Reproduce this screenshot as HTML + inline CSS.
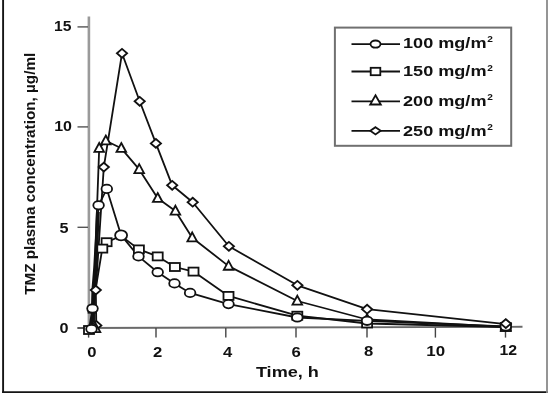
<!DOCTYPE html>
<html><head><meta charset="utf-8"><style>
html,body{margin:0;padding:0;background:#fff;width:550px;height:395px;overflow:hidden}
svg{display:block;filter:blur(0.3px)}
text{font-family:"Liberation Sans",sans-serif;font-weight:bold}
</style></head><body>
<svg width="550" height="395" viewBox="0 0 550 395" font-family="Liberation Sans, sans-serif" font-weight="bold" fill="#111"><line x1="3.1" y1="0" x2="3.1" y2="392.9" stroke="#151515" stroke-width="1.9"/>
<line x1="2.2" y1="392.1" x2="548" y2="392.1" stroke="#151515" stroke-width="1.6"/>
<line x1="547" y1="0" x2="547" y2="393" stroke="#8a8a8a" stroke-width="1.8"/>
<line x1="88.9" y1="16.5" x2="88.9" y2="328" stroke="#9a9a9a" stroke-width="2.6"/>
<line x1="77.5" y1="328" x2="522.5" y2="326.8" stroke="#6a6a6a" stroke-width="1.9"/>
<line x1="77.5" y1="26.9" x2="88" y2="26.9" stroke="#555" stroke-width="1.4"/>
<line x1="77.5" y1="126.9" x2="88" y2="126.9" stroke="#555" stroke-width="1.4"/>
<line x1="77.5" y1="227.3" x2="88" y2="227.3" stroke="#555" stroke-width="1.4"/>
<line x1="77.5" y1="328" x2="88" y2="328" stroke="#555" stroke-width="1.4"/>
<text transform="translate(62.8,31)" font-size="15" text-anchor="middle" textLength="17.4" lengthAdjust="spacingAndGlyphs">15</text>
<text transform="translate(63.1,131.3)" font-size="15" text-anchor="middle" textLength="17.8" lengthAdjust="spacingAndGlyphs">10</text>
<text transform="translate(64.1,232.8) scale(1.08,1)" font-size="15" text-anchor="middle">5</text>
<text transform="translate(64,332.6) scale(1.08,1)" font-size="15" text-anchor="middle">0</text>
<line x1="88.6" y1="328" x2="88.6" y2="337.6" stroke="#444" stroke-width="1.4"/>
<line x1="156" y1="328" x2="156" y2="337.6" stroke="#444" stroke-width="1.4"/>
<line x1="225.8" y1="328" x2="225.8" y2="337.6" stroke="#444" stroke-width="1.4"/>
<line x1="296" y1="328" x2="296" y2="337.6" stroke="#444" stroke-width="1.4"/>
<line x1="367" y1="328" x2="367" y2="337.6" stroke="#444" stroke-width="1.4"/>
<line x1="435.4" y1="328" x2="435.4" y2="337.6" stroke="#444" stroke-width="1.4"/>
<line x1="505.5" y1="328" x2="505.5" y2="337.6" stroke="#444" stroke-width="1.4"/>
<text transform="translate(92,356.6) scale(1.11,1)" font-size="15" text-anchor="middle">0</text>
<text transform="translate(157.75,356.6) scale(1.11,1)" font-size="15" text-anchor="middle">2</text>
<text transform="translate(227.55,356.6) scale(1.11,1)" font-size="15" text-anchor="middle">4</text>
<text transform="translate(296.15,356.6) scale(1.11,1)" font-size="15" text-anchor="middle">6</text>
<text transform="translate(368.6,355.6) scale(1.11,1)" font-size="15" text-anchor="middle">8</text>
<text transform="translate(435.65,356)" font-size="15" text-anchor="middle" textLength="18.8" lengthAdjust="spacingAndGlyphs">10</text>
<text transform="translate(508.35,355)" font-size="15" text-anchor="middle" textLength="17.6" lengthAdjust="spacingAndGlyphs">12</text>
<text transform="translate(287.4,377.3)" font-size="15" text-anchor="middle" textLength="63" lengthAdjust="spacingAndGlyphs">Time, h</text>
<text transform="translate(35.0,173.8) rotate(-90)" font-size="14.2" text-anchor="middle" textLength="242" lengthAdjust="spacingAndGlyphs">TMZ plasma concentration, µg/ml</text>
<polygon points="96.0,212.0 94.8,240.0 93.2,268.0 91.4,290.0 90.6,322.0 95.4,322.0 95.6,290.0 97.4,268.0 98.6,240.0 99.8,212.0" fill="#151515"/>
<g fill="none" stroke="#111" stroke-width="1.8" stroke-linejoin="round"><polyline points="96.3,325.4 95.8,290.1 103.8,167.1 122.0,53.3 139.7,101.3 155.9,143.4 172.2,185.3 192.7,202.2 228.9,246.3 297.4,285.3 367.1,309.2 505.8,324.2"/><polyline points="92.6,328.5 99.2,148.2 105.8,140.8 121.3,148.3 139.2,169.4 157.7,198.3 175.4,211.0 192.2,237.7 228.6,266.1 297.3,301.0 367.1,319.5 505.8,327.0"/><polyline points="89.0,330.0 92.3,309.5 102.3,248.6 106.6,242.2 121.1,236.0 138.9,249.4 157.7,256.4 174.9,267.0 193.5,271.6 228.5,295.9 297.3,315.7 367.1,323.5 505.8,327.0"/><polyline points="91.5,329.0 92.5,308.5 98.6,205.3 106.8,188.9 121.1,235.3 138.5,256.4 157.7,272.2 174.5,283.4 190.1,292.9 228.5,304.1 297.3,317.5 367.1,320.8 505.8,326.5"/></g>
<g fill="#fff" stroke="#111" stroke-width="1.8"><polygon points="96.30,321.00 101.40,325.40 96.30,329.80 91.20,325.40"/><polygon points="95.80,285.70 100.90,290.10 95.80,294.50 90.70,290.10"/><polygon points="103.80,162.70 108.90,167.10 103.80,171.50 98.70,167.10"/><polygon points="122.00,48.90 127.10,53.30 122.00,57.70 116.90,53.30"/><polygon points="139.70,96.90 144.80,101.30 139.70,105.70 134.60,101.30"/><polygon points="155.90,139.00 161.00,143.40 155.90,147.80 150.80,143.40"/><polygon points="172.20,180.90 177.30,185.30 172.20,189.70 167.10,185.30"/><polygon points="192.70,197.80 197.80,202.20 192.70,206.60 187.60,202.20"/><polygon points="228.90,241.90 234.00,246.30 228.90,250.70 223.80,246.30"/><polygon points="297.40,280.90 302.50,285.30 297.40,289.70 292.30,285.30"/><polygon points="367.10,304.80 372.20,309.20 367.10,313.60 362.00,309.20"/><polygon points="505.80,319.80 510.90,324.20 505.80,328.60 500.70,324.20"/><polygon points="95.50,323.25 100.30,332.15 90.70,332.15"/><polygon points="99.20,142.95 104.00,151.85 94.40,151.85"/><polygon points="105.80,135.55 110.60,144.45 101.00,144.45"/><polygon points="121.30,143.05 126.10,151.95 116.50,151.95"/><polygon points="139.20,164.15 144.00,173.05 134.40,173.05"/><polygon points="157.70,193.05 162.50,201.95 152.90,201.95"/><polygon points="175.40,205.75 180.20,214.65 170.60,214.65"/><polygon points="192.20,232.45 197.00,241.35 187.40,241.35"/><polygon points="228.60,260.85 233.40,269.75 223.80,269.75"/><polygon points="297.30,295.75 302.10,304.65 292.50,304.65"/><polygon points="367.10,314.25 371.90,323.15 362.30,323.15"/><polygon points="505.80,321.75 510.60,330.65 501.00,330.65"/><rect x="84.00" y="326.00" width="10.0" height="8.0"/><rect x="88.50" y="306.30" width="7.6" height="6.4"/><rect x="101.60" y="238.20" width="10.0" height="8.0"/><rect x="97.30" y="244.60" width="10.0" height="8.0"/><rect x="117.30" y="232.80" width="7.6" height="6.4"/><rect x="133.90" y="245.40" width="10.0" height="8.0"/><rect x="152.70" y="252.40" width="10.0" height="8.0"/><rect x="169.90" y="263.00" width="10.0" height="8.0"/><rect x="188.50" y="267.60" width="10.0" height="8.0"/><rect x="223.50" y="291.90" width="10.0" height="8.0"/><rect x="292.30" y="311.70" width="10.0" height="8.0"/><rect x="362.10" y="319.50" width="10.0" height="8.0"/><rect x="500.80" y="323.00" width="10.0" height="8.0"/><ellipse cx="91.5" cy="329" rx="5.3" ry="4.2"/><ellipse cx="92.5" cy="308.5" rx="5.3" ry="4.2"/><ellipse cx="98.6" cy="205.3" rx="5.3" ry="4.2"/><ellipse cx="106.8" cy="188.9" rx="5.3" ry="4.2"/><ellipse cx="121.1" cy="235.3" rx="6.0" ry="5.0"/><ellipse cx="138.5" cy="256.4" rx="5.3" ry="4.2"/><ellipse cx="157.7" cy="272.2" rx="5.3" ry="4.2"/><ellipse cx="174.5" cy="283.4" rx="5.3" ry="4.2"/><ellipse cx="190.1" cy="292.9" rx="5.3" ry="4.2"/><ellipse cx="228.5" cy="304.1" rx="5.3" ry="4.2"/><ellipse cx="297.3" cy="317.5" rx="5.3" ry="4.2"/><ellipse cx="367.1" cy="320.8" rx="5.3" ry="4.2"/><ellipse cx="505.8" cy="326.5" rx="5.3" ry="4.2"/><polygon points="505.80,319.20 510.90,323.60 505.80,328.00 500.70,323.60"/></g>
<rect x="334.9" y="27.6" width="176.3" height="118.2" fill="none" stroke="#707070" stroke-width="2"/>
<line x1="351.5" y1="44.1" x2="400" y2="44.1" stroke="#111" stroke-width="1.8"/>
<g fill="#fff" stroke="#111" stroke-width="1.8"><ellipse cx="375.5" cy="44.1" rx="5" ry="3.6"/></g>
<text transform="translate(403.0,48.1)" font-size="14.5" text-anchor="start" textLength="83.5" lengthAdjust="spacingAndGlyphs">100 mg/m</text>
<text transform="translate(487.2,42.4) scale(1.15,1)" font-size="8.8" text-anchor="start">2</text>
<line x1="351.5" y1="71.5" x2="400" y2="71.5" stroke="#111" stroke-width="1.8"/>
<g fill="#fff" stroke="#111" stroke-width="1.8"><rect x="370.70" y="67.80" width="9.6" height="7.4"/></g>
<text transform="translate(403.0,76.2)" font-size="14.5" text-anchor="start" textLength="83.5" lengthAdjust="spacingAndGlyphs">150 mg/m</text>
<text transform="translate(487.2,70.5) scale(1.15,1)" font-size="8.8" text-anchor="start">2</text>
<line x1="351.5" y1="101.3" x2="400" y2="101.3" stroke="#111" stroke-width="1.8"/>
<g fill="#fff" stroke="#111" stroke-width="1.8"><polygon points="375.50,95.30 380.80,104.50 370.20,104.50"/></g>
<text transform="translate(403.0,106.0)" font-size="14.5" text-anchor="start" textLength="83.5" lengthAdjust="spacingAndGlyphs">200 mg/m</text>
<text transform="translate(487.2,100.3) scale(1.15,1)" font-size="8.8" text-anchor="start">2</text>
<line x1="351.5" y1="130.8" x2="400" y2="130.8" stroke="#111" stroke-width="1.8"/>
<g fill="#fff" stroke="#111" stroke-width="1.8"><polygon points="375.50,127.20 380.70,130.80 375.50,134.40 370.30,130.80"/></g>
<text transform="translate(403.0,135.5)" font-size="14.5" text-anchor="start" textLength="83.5" lengthAdjust="spacingAndGlyphs">250 mg/m</text>
<text transform="translate(487.2,129.8) scale(1.15,1)" font-size="8.8" text-anchor="start">2</text></svg>
</body></html>
